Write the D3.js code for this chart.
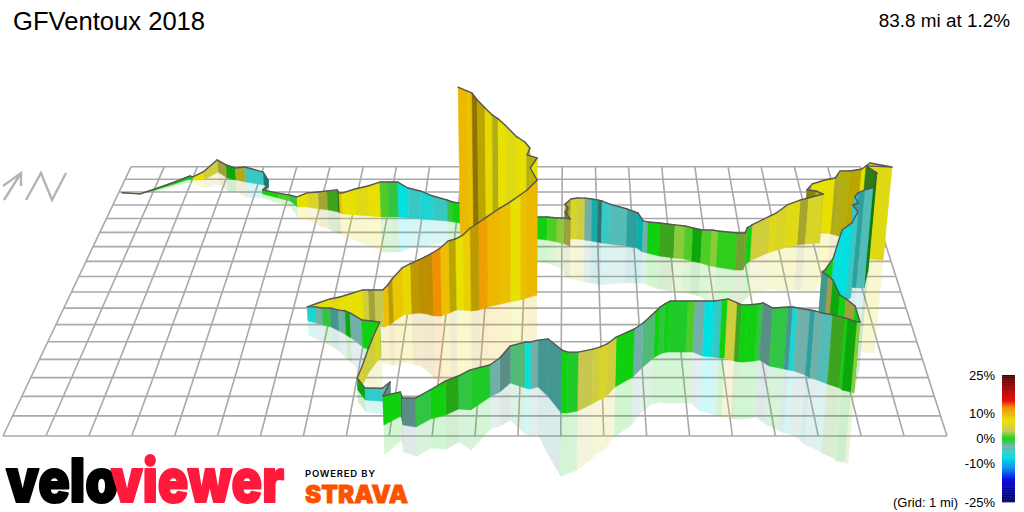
<!DOCTYPE html>
<html>
<head>
	<title>GFVentoux 2018</title>
	<script type="text/javascript" src="https://d3js.org/d3.v7.min.js"></script>
	<style type="text/css">
		body {
			margin: 0;
			background: #fff;
		}
		text {
			font-family: "Liberation Sans", Arial, sans-serif;
			fill: #000;
		}
	</style>
</head>
<body>
	<div id="chart"></div>
	<script type="text/javascript">
		// route: miles east, miles north of the grid's front left corner
		const routeEast = [
			0.10,0.64,1.03,1.54,1.93,2.03,2.35,2.68,3.02,3.31,
			3.62,4.19,4.34,4.31,4.24,4.73,5.10,5.36,5.66,6.00,
			6.26,6.57,6.63,6.72,7.10,7.48,7.83,8.06,8.34,8.63,
			8.98,9.34,9.74,9.90,10.11,11.26,12.31,12.59,12.86,13.08,
			13.22,13.08,13.16,13.08,13.24,13.41,13.63,13.82,13.99,14.10,
			14.31,14.79,15.08,15.22,15.35,15.67,16.07,16.34,16.55,16.79,
			17.04,17.20,17.70,17.91,17.99,18.14,18.68,18.85,19.16,19.53,
			19.75,20.17,20.01,19.81,19.95,20.29,20.55,20.66,20.90,21.17,
			21.25,21.79,21.12,21.28,21.05,20.85,20.68,20.60,20.69,20.50,
			20.62,20.45,20.19,20.07,19.96,19.75,19.62,19.72,19.78,19.87,
			19.95,20.05,20.08,20.02,19.81,19.76,19.49,19.26,19.10,19.00,
			18.73,18.61,18.50,18.15,17.94,17.81,17.56,17.41,17.30,17.08,
			16.94,16.77,16.53,16.30,16.12,15.68,15.55,15.43,15.30,14.99,
			14.76,14.31,14.08,13.91,13.74,13.39,13.15,13.01,12.68,12.44,
			12.25,12.13,11.76,11.52,11.29,10.85,10.56,10.27,9.92,9.60,
			9.29,9.21,8.84,8.93,8.72,8.30,8.07,8.17,8.27,8.38,
			8.50,8.28,8.00,7.66,7.52,7.32,7.09,6.87,6.68,6.46,
			6.75,7.07,7.33,7.59,7.93,8.08,8.24,8.45,8.57,8.67,
			8.90,9.10,9.31,9.49,9.69,9.89,10.09,10.26,10.46,10.65,
			10.85,11.07,11.40,11.66,11.91,12.09,12.34,12.16,12.33,12.07,
			12.14,12.01,11.80,11.48,11.29,11.13,10.93,10.71,10.56,10.43,10.17
		];
		const routeNorth = [
			14.94,14.85,15.15,15.62,16.02,15.94,15.94,16.58,16.10,15.94,
			15.78,15.54,15.38,15.23,14.85,14.53,14.30,13.86,13.86,13.71,
			13.64,13.49,13.41,13.33,13.26,13.19,13.11,13.11,13.11,13.04,
			12.97,12.89,12.82,12.75,12.67,12.17,11.53,11.46,11.32,11.18,
			11.04,11.25,11.39,11.53,11.53,11.53,11.46,11.39,11.32,11.25,
			11.18,11.04,10.91,10.64,10.57,10.36,10.23,10.16,10.02,9.89,
			9.69,9.62,9.42,9.42,9.76,10.02,10.57,10.70,10.91,11.11,
			11.18,11.25,11.60,12.03,12.10,12.03,11.89,11.82,11.60,11.25,
			10.43,10.09,10.23,9.30,8.26,8.26,8.32,8.26,8.19,7.81,
			7.63,7.38,7.19,6.88,6.76,6.58,6.16,5.68,5.21,4.41,
			3.86,2.98,2.18,2.23,2.34,2.44,2.66,2.87,2.98,3.14,
			3.36,3.41,3.47,3.63,3.97,3.91,3.86,3.86,3.91,4.08,
			4.08,4.13,4.19,4.41,4.41,4.41,4.36,4.24,4.08,3.52,
			3.03,2.49,1.97,1.81,1.60,1.24,1.14,1.14,2.02,2.49,
			2.39,2.44,2.71,2.23,1.97,1.30,1.35,1.04,0.84,0.44,
			0.54,0.99,0.54,1.55,1.75,1.81,2.34,2.66,3.30,3.74,
			4.13,4.41,4.70,5.22,5.39,5.62,5.86,5.98,6.10,6.22,
			6.16,6.10,6.04,5.98,5.98,5.92,5.92,5.86,5.98,6.16,
			6.58,6.64,6.70,6.64,6.52,6.52,6.70,6.88,6.88,6.82,
			6.88,7.07,7.25,7.38,7.50,7.63,7.81,8.13,8.45,8.58,
			8.64,8.77,8.97,9.42,9.76,9.96,10.30,10.77,10.98,11.11,11.46
		];
		// metres above the lowest point
		const routeElev = [
			0,0,14,28,42,42,112,170,183,168,
			210,181,97,42,55,69,82,136,191,231,
			258,298,271,284,351,405,472,472,472,404,
			377,323,282,268,268,293,290,303,316,341,
			354,407,434,462,528,541,553,553,552,552,
			525,485,457,404,403,428,427,427,426,425,
			462,462,473,473,476,465,481,495,562,590,
			604,644,621,558,625,691,742,848,885,972,
			1194,1201,1191,1264,1257,1232,1183,1144,1080,1124,
			1071,980,927,837,663,551,609,652,695,675,
			739,833,810,800,813,802,794,773,775,754,
			733,734,723,678,670,669,669,669,681,695,
			683,660,649,604,604,604,580,567,542,525,
			556,574,603,601,622,663,683,707,649,539,
			538,527,426,388,364,450,371,381,324,321,
			300,269,322,260,147,136,137,207,267,340,
			412,367,321,300,289,253,230,206,195,171,
			231,292,328,376,425,436,437,448,485,523,
			576,613,650,699,771,832,884,874,923,1021,
			1071,1111,1188,1240,1305,1344,1436,1530,1601,1617,
			1694,1748,1778,1855,1877,1895,1930,1957,2015,2019,2016
		];
		// gradient (%) of the stretch that ends at each point
		const routeGrade = [
			0,1,0,0,0,0,7,4,3.5,0,
			5,-5,-6,-6,0,0,1,-1,7,5,
			4,1,1,9,7,6,7,1,-1,-7,
			-5,-6,-5,-1,0,2,2,0,1,2,
			3,4,4,4,4,5,4,-3,-6,-4,
			-5,-4,-5,-7,-3,0,1,2,1,0,
			1,2,0.5,2,2,0,4,6,5,6,
			4,5,6,6,6,7,7,5,6,8,
			7,6,6,1,0,-4,-5,-5,-6,-5,
			-5,-5,-7,-7,-6.5,0,0,-4,3,0,
			0,3,0,2,0,0,1,-4,-3,-5,
			-3,-6,-4,-1,-3,-1,0,0,1,4,
			0,-5,-7,-3,1,-0.5,0,-1,0,-2,
			-3,0,4,5,4,3,-0.5,0,-4,-4,
			-3,-7,-2,-3,-3,-0.5,-1,0.5,0,-1,
			-3,-3,0,-3,-3,-5.5,0,5,4,4,
			5,0,0,-3,0,-3,-4,-1,-3,-6,
			6,7,6,7,7,4,3.5,3,9,9,
			8.5,7.5,9,10,10,12,9,8,7,8,
			9,11,9.5,9,7,9,9.5,7,7,6,
			6,6,7,6,7,6,7.5,8,9,9,9.5
		];
		// how far each stretch faces away from the light: 0, 1 or 2
		const routeShade = [
			0,0,0,0,0,0,0,0,1,1,
			1,0,2,2,1,0,0,0,0,0,
			1,1,2,0,0,0,0,0,0,0,
			0,0,0,0,0,0,0,0,0,0,
			1,2,2,1,1,0,0,0,1,2,
			0,0,1,1,0,0,1,0,0,1,
			0,0,0,1,1,0,0,0,0,0,
			1,0,1,2,1,0,0,1,1,1,
			0,0,0,2,2,0,1,0,0,1,
			0,0,0,0,0,0,0,1,1,1,
			0,1,0,0,1,0,1,0,0,1,
			0,0,1,0,1,0,0,0,1,0,
			0,0,0,0,0,0,0,0,0,0,
			0,0,0,0,0,0,0,0,1,1,
			0,0,0,1,0,0,0,1,0,0,
			1,2,0,1,0,0,1,0,0,0,
			0,0,0,0,1,0,1,0,0,0,
			0,0,0,0,0,0,1,0,0,1,
			0,0,1,1,1,0,0,1,0,0,
			1,0,0,0,0,0,0,1,0,1,
			1,0,0,0,0,1,0,1,2,0,0
		];

		const gradeStops = [-25,-16,-11.5,-7,-3,0,3,7,12,15,19,25];
		const gradeColors = ["#00005a","#0000e0","#0090f0","#00e0e0","#70b0a8","#10d010","#c8c850","#e8e000","#f09000","#e80000","#b00000","#4a0000"];
		const legendTicks = [25,10,0,-10,-25];

		const gridEast = 22;
		const gridNorth = 17;

		const width = 1024;
		const height = 512;

		// perspective: everything shrinks towards a vanishing point above the page
		const vanish = {x: 567, y: -750};
		const focal = 57.9;
		const east = d3.scaleLinear().domain([0, gridEast]).range([3, 947]);
		const elev = d3.scaleLinear().domain([0, 11]).range([0, 1]);
		const depth = function (n) {
			return focal / (focal + n);
		};

		// verticals lean a little away from this x
		const nadirX = 520;
		const nadirY = 3800;

		const project = function (e, n, m) {
			const k = depth(n);
			const bx = vanish.x + (east(e) - vanish.x) * k;
			const by = vanish.y + (436 - vanish.y) * k;
			const h = elev(m) * k;
			return [bx + (bx - nadirX) * h / nadirY, by - h];
		};

		const color = d3.scaleLinear().domain(gradeStops).range(gradeColors).clamp(true);

		const svg = d3.select("#chart").append("svg")
			.attr("width", width)
			.attr("height", height)
			.style("display", "block");

		// grid on the floor
		const grid = svg.append("g")
			.attr("fill", "none")
			.attr("stroke", "#a9a9a9")
			.attr("stroke-width", 1.6);

		d3.range(gridNorth + 1).forEach(function (n) {
			grid.append("path").attr("d", d3.line()([project(0, n, 0), project(gridEast, n, 0)]));
		});
		d3.range(gridEast + 1).forEach(function (e) {
			grid.append("path").attr("d", d3.line()([project(e, 0, 0), project(e, gridNorth, 0)]));
		});

		// one wall per stretch of road, drawn far to near
		const stretches = d3.range(1, routeEast.length).map(function (i) {
			return {
				a: i - 1,
				b: i,
				north: (routeNorth[i - 1] + routeNorth[i]) / 2,
				fill: d3.interpolateRgb(color(routeGrade[i]), "#000")(routeShade[i] * 0.2)
			};
		}).sort(function (p, q) {
			return q.north - p.north;
		});

		const wallPath = function (s, sign) {
			return d3.line()([
				project(routeEast[s.a], routeNorth[s.a], sign * routeElev[s.a]),
				project(routeEast[s.b], routeNorth[s.b], sign * routeElev[s.b]),
				project(routeEast[s.b], routeNorth[s.b], 0),
				project(routeEast[s.a], routeNorth[s.a], 0)
			]) + "Z";
		};

		// reflection in the floor
		svg.append("g")
			.attr("opacity", 0.19)
			.selectAll("path")
			.data(stretches)
			.join("path")
			.attr("d", function (s) { return wallPath(s, -1); })
			.attr("fill", function (s) { return s.fill; })
			.attr("stroke", function (s) { return s.fill; })
			.attr("stroke-width", 0.5);

		const walls = svg.append("g")
			.selectAll("g")
			.data(stretches)
			.join("g");

		walls.append("path")
			.attr("d", function (s) { return wallPath(s, 1); })
			.attr("fill", function (s) { return s.fill; })
			.attr("stroke", function (s) { return s.fill; })
			.attr("stroke-width", 0.5);

		walls.append("path")
			.attr("d", function (s) {
				return d3.line()([
					project(routeEast[s.a], routeNorth[s.a], routeElev[s.a]),
					project(routeEast[s.b], routeNorth[s.b], routeElev[s.b])
				]);
			})
			.attr("fill", "none")
			.attr("stroke", "#555")
			.attr("stroke-width", 1.4)
			.attr("stroke-linecap", "round");

		// north arrow
		svg.append("path")
			.attr("d", "M4,200L21,173M3,186L21,173L21,186M26,200L41,173L52,200L66,173")
			.attr("fill", "none")
			.attr("stroke", "#b3b3b3")
			.attr("stroke-width", 2.4);

		// headings
		svg.append("text")
			.attr("x", 13)
			.attr("y", 30)
			.attr("font-size", 25.6)
			.text("GFVentoux 2018");

		svg.append("text")
			.attr("x", 1010)
			.attr("y", 27)
			.attr("font-size", 18.9)
			.attr("text-anchor", "end")
			.text("83.8 mi at 1.2%");

		// legend
		const legendY = d3.scaleLinear().domain([25, -25]).range([375, 502]);

		svg.append("g")
			.selectAll("rect")
			.data(d3.range(-25, 25, 0.25))
			.join("rect")
			.attr("x", 1002)
			.attr("y", function (d) { return legendY(d + 0.25); })
			.attr("width", 13)
			.attr("height", 1)
			.attr("fill", function (d) { return color(d); });

		svg.append("g")
			.selectAll("text")
			.data(legendTicks)
			.join("text")
			.attr("x", 995)
			.attr("y", function (d) { return legendY(d) + 4.5; })
			.attr("font-size", 13)
			.attr("text-anchor", "end")
			.text(function (d) { return d + "%"; });

		svg.append("text")
			.attr("x", 893)
			.attr("y", 507)
			.attr("font-size", 13)
			.text("(Grid: 1 mi)");

		// logos
		const logo = svg.append("g")
			.style("font-family", "Inter, 'Liberation Sans', sans-serif")
			.style("font-weight", 900);

		logo.append("text")
			.attr("x", 6)
			.attr("y", 502)
			.attr("font-size", 60)
			.attr("textLength", 112)
			.attr("lengthAdjust", "spacingAndGlyphs")
			.attr("stroke", "#000")
			.attr("stroke-width", 2)
			.attr("stroke-linejoin", "round")
			.style("font-family", "inherit")
			.style("fill", "#000")
			.text("velo");

		logo.append("text")
			.attr("x", 111)
			.attr("y", 502)
			.attr("font-size", 60)
			.attr("textLength", 173)
			.attr("lengthAdjust", "spacingAndGlyphs")
			.attr("stroke", "#ff1a3c")
			.attr("stroke-width", 2)
			.attr("stroke-linejoin", "round")
			.style("font-family", "inherit")
			.style("fill", "#ff1a3c")
			.text("viewer");

		logo.append("text")
			.attr("x", 305)
			.attr("y", 477)
			.attr("font-size", 9.5)
			.attr("textLength", 70)
			.style("font-family", "inherit")
			.style("font-weight", 600)
			.text("POWERED BY");

		logo.append("text")
			.attr("x", 305)
			.attr("y", 503)
			.attr("font-size", 25)
			.attr("textLength", 103)
			.attr("lengthAdjust", "spacingAndGlyphs")
			.attr("stroke", "#fc5200")
			.attr("stroke-width", 0.8)
			.style("font-family", "inherit")
			.style("fill", "#fc5200")
			.text("STRAVA");
	</script>
</body>
</html>
